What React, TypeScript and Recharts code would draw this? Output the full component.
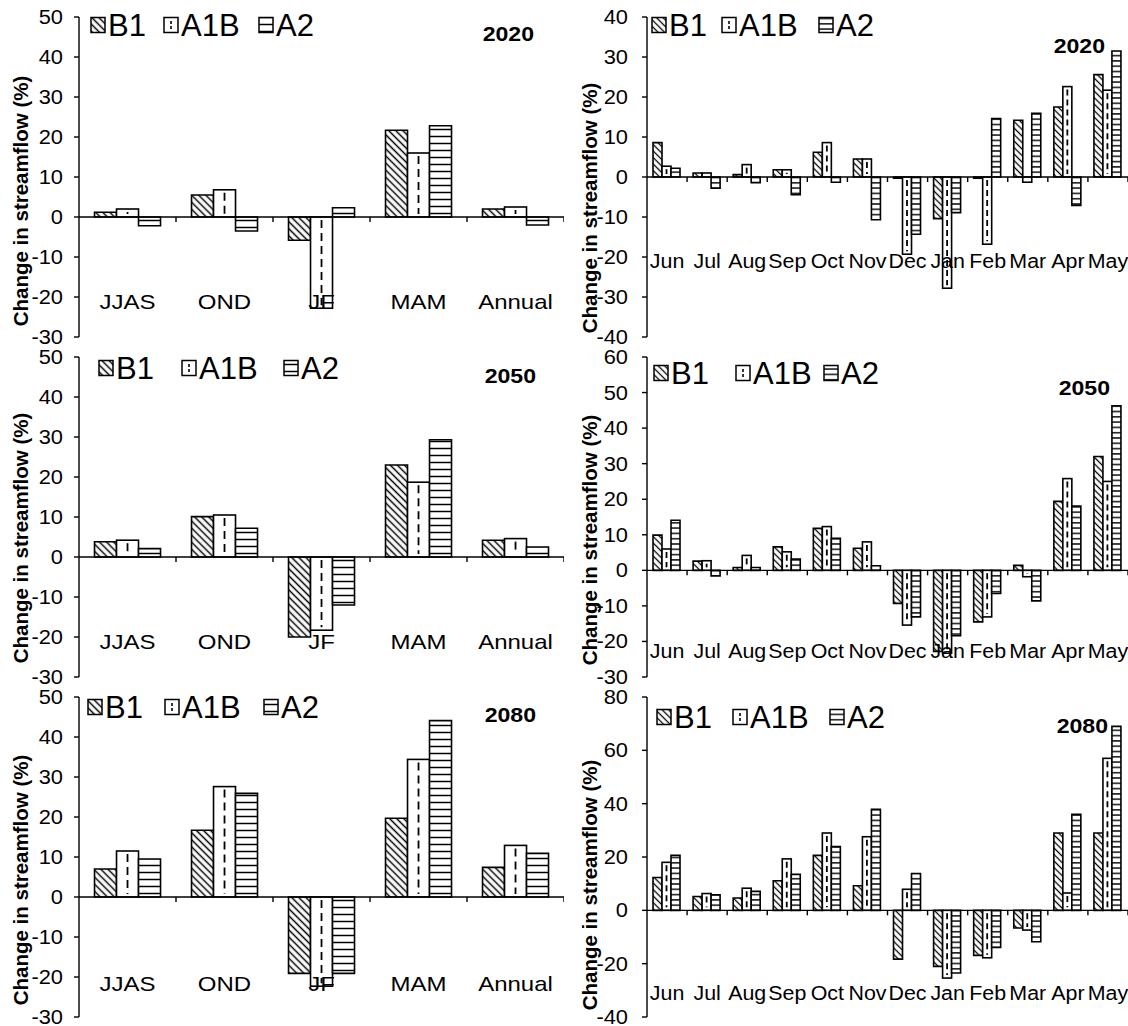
import React from "react";
import { BarChart, Bar, XAxis, YAxis, ReferenceLine } from "recharts";

const FONT = "Arial, 'Liberation Sans', Helvetica, sans-serif";

const seasons = ["JJAS", "OND", "JF", "MAM", "Annual"];
const months = ["Jun", "Jul", "Aug", "Sep", "Oct", "Nov", "Dec", "Jan", "Feb", "Mar", "Apr", "May"];
const series = ["B1", "A1B", "A2"];

// seasonal change in streamflow (%)
const b1Season2020 = [1.2, 5.5, -5.8, 21.7, 2.0];
const a1bSeason2020 = [2.0, 6.8, -22.8, 16.0, 2.5];
const a2Season2020 = [-2.2, -3.5, 2.3, 22.8, -2.0];
const b1Season2050 = [3.8, 10.1, -20.0, 23.0, 4.2];
const a1bSeason2050 = [4.2, 10.5, -18.3, 18.7, 4.6];
const a2Season2050 = [2.1, 7.2, -12.0, 29.3, 2.5];
const b1Season2080 = [7.0, 16.7, -19.1, 19.7, 7.4];
const a1bSeason2080 = [11.5, 27.6, -22.3, 34.4, 12.9];
const a2Season2080 = [9.5, 25.9, -19.1, 44.1, 10.9];

// monthly change in streamflow (%)
const b1Month2020 = [8.6, 1.0, 0.6, 1.8, 6.2, 4.5, -0.3, -10.4, -0.3, 14.2, 17.5, 25.6];
const a1bMonth2020 = [2.7, 1.0, 3.1, 1.8, 8.6, 4.5, -19.3, -27.8, -16.8, -1.3, 22.6, 21.7];
const a2Month2020 = [2.2, -2.8, -1.4, -4.4, -1.3, -10.7, -14.3, -8.9, 14.6, 15.9, -7.1, 31.5];
const b1Month2050 = [9.9, 2.6, 0.8, 6.6, 11.8, 6.2, -9.3, -22.8, -14.5, 1.4, 19.4, 32.0];
const a1bMonth2050 = [6.0, 2.7, 4.2, 5.2, 12.3, 8.0, -15.4, -23.3, -13.1, -1.8, 25.8, 25.0];
const a2Month2050 = [14.1, -1.6, 0.8, 3.2, 9.0, 1.3, -13.1, -18.4, -6.5, -8.6, 18.1, 46.3];
const b1Month2080 = [12.3, 5.2, 4.6, 11.1, 20.6, 9.2, -18.3, -21.0, -16.9, -6.6, 29.0, 29.0];
const a1bMonth2080 = [18.0, 6.3, 8.3, 19.3, 29.0, 27.6, 7.9, -25.4, -17.8, -7.4, 6.5, 57.0];
const a2Month2080 = [20.6, 5.8, 7.1, 13.5, 23.9, 37.9, 13.8, -23.5, -13.9, -11.8, 36.0, 69.0];

const seasonTicks = [-30, -20, -10, 0, 10, 20, 30, 40, 50];
const monthTicks2020 = [-40, -30, -20, -10, 0, 10, 20, 30, 40];
const monthTicks2050 = [-30, -20, -10, 0, 10, 20, 30, 40, 50, 60];
const monthTicks2080 = [-40, -20, 0, 20, 40, 60, 80];

type PanelSpec = {
  id: string;
  left: number;
  top: number;
  monthly: boolean;
  cats: string[];
  b1: number[];
  a1b: number[];
  a2: number[];
  ticks: number[];
  year: string;
  axisW: number;
  labelLift: number;
  legendX: number[];
  legendY: number;
  yearX: number;
  yearY: number;
  titleX: number;
  titleY: number;
};

const panels: PanelSpec[] = [
  { id: "s2020", left: 0, top: 0, monthly: false, cats: seasons, b1: b1Season2020, a1b: a1bSeason2020, a2: a2Season2020, ticks: seasonTicks, year: "2020", axisW: 79, labelLift: 28, legendX: [91, 164, 259], legendY: 25, yearX: 534, yearY: 41, titleX: 20, titleY: 201 },
  { id: "m2020", left: 564, top: 0, monthly: true, cats: months, b1: b1Month2020, a1b: a1bMonth2020, a2: a2Month2020, ticks: monthTicks2020, year: "2020", axisW: 83, labelLift: 69, legendX: [88, 158, 255], legendY: 25, yearX: 541, yearY: 53, titleX: 25, titleY: 208 },
  { id: "s2050", left: 0, top: 340, monthly: false, cats: seasons, b1: b1Season2050, a1b: a1bSeason2050, a2: a2Season2050, ticks: seasonTicks, year: "2050", axisW: 79, labelLift: 28, legendX: [99, 182, 284], legendY: 28, yearX: 536, yearY: 43, titleX: 20, titleY: 198 },
  { id: "m2050", left: 564, top: 340, monthly: true, cats: months, b1: b1Month2050, a1b: a1bMonth2050, a2: a2Month2050, ticks: monthTicks2050, year: "2050", axisW: 83, labelLift: 19, legendX: [90, 172, 260], legendY: 33, yearX: 546, yearY: 55, titleX: 25, titleY: 200 },
  { id: "s2080", left: 0, top: 680, monthly: false, cats: seasons, b1: b1Season2080, a1b: a1bSeason2080, a2: a2Season2080, ticks: seasonTicks, year: "2080", axisW: 79, labelLift: 26, legendX: [88, 165, 264], legendY: 27, yearX: 536, yearY: 42, titleX: 20, titleY: 200 },
  { id: "m2080", left: 564, top: 680, monthly: true, cats: months, b1: b1Month2080, a1b: a1bMonth2080, a2: a2Month2080, ticks: monthTicks2080, year: "2080", axisW: 83, labelLift: 17, legendX: [93, 169, 266], legendY: 37, yearX: 544, yearY: 53, titleX: 25, titleY: 205 },
];

function Patterns() {
  return (
    <svg width={0} height={0} style={{ position: "absolute" }}>
      <defs>
        <pattern id="b1-s" patternUnits="userSpaceOnUse" width={5} height={5} patternTransform="rotate(45)">
          <rect width={5} height={5} fill="#fff" />
          <line x1={0} y1={2.5} x2={5} y2={2.5} stroke="#000" strokeWidth={1.5} />
        </pattern>
        <pattern id="b1-m" patternUnits="userSpaceOnUse" width={4.6} height={4.6} patternTransform="rotate(45)">
          <rect width={4.6} height={4.6} fill="#fff" />
          <line x1={0} y1={2.3} x2={4.6} y2={2.3} stroke="#000" strokeWidth={1.3} />
        </pattern>
        <pattern id="a2-s" patternUnits="userSpaceOnUse" width={8} height={7}>
          <rect width={8} height={7} fill="#fff" />
          <line x1={0} y1={3.5} x2={8} y2={3.5} stroke="#000" strokeWidth={1.5} />
        </pattern>
        <pattern id="a2-m" patternUnits="userSpaceOnUse" width={8} height={5.3}>
          <rect width={8} height={5.3} fill="#fff" />
          <line x1={0} y1={2.6} x2={8} y2={2.6} stroke="#000" strokeWidth={1.4} />
        </pattern>
      </defs>
    </svg>
  );
}

// A1B: white bar with a dashed line down the middle
const dashedBar = (dash: string) => (p: any) => {
  const { x, y, width, height } = p;
  if (x == null || y == null) return <g />;
  const top = Math.min(y, y + height);
  const h = Math.abs(height);
  const cx = x + width / 2;
  return (
    <g>
      <rect x={x} y={top} width={width} height={h} fill="#fff" stroke="#000" strokeWidth={1.6} />
      {h > 6 && (
        <line x1={cx} x2={cx} y1={top + 3} y2={top + h - 3} stroke="#000" strokeWidth={1.8} strokeDasharray={dash} />
      )}
    </g>
  );
};

// zero line acting as category axis, with small ticks between categories
const zeroAxis = (n: number) => (p: any) => {
  const { x1, x2, y1 } = p;
  const step = (x2 - x1) / n;
  return (
    <g>
      <line x1={x1} x2={x2} y1={y1} y2={y1} stroke="#000" strokeWidth={1.4} />
      {Array.from({ length: n }, (_, i) => (
        <line key={i} x1={x1 + step * (i + 1)} x2={x1 + step * (i + 1)} y1={y1} y2={y1 + 5} stroke="#000" strokeWidth={1.4} />
      ))}
    </g>
  );
};

function Swatch({ kind, x, y, tag }: { kind: string; x: number; y: number; tag: string }) {
  const w = 14;
  const h = 15;
  if (kind === "A1B") {
    return (
      <g>
        <rect x={x} y={y - h / 2} width={w} height={h} fill="#fff" stroke="#000" strokeWidth={1.5} />
        <line x1={x + w / 2} x2={x + w / 2} y1={y - 4} y2={y + 4} stroke="#000" strokeWidth={1.6} strokeDasharray="3 2" />
      </g>
    );
  }
  const fill = kind === "B1" ? `url(#b1-${tag})` : `url(#a2-${tag})`;
  return <rect x={x} y={y - h / 2} width={w} height={h} fill={fill} stroke="#000" strokeWidth={1.5} />;
}

function Panel(p: PanelSpec) {
  const W = 564;
  const H = 350;
  const tag = p.monthly ? "m" : "s";
  const catStretch = p.monthly ? 1.07 : 1.2;
  const rows = p.cats.map((name, i) => ({ name, B1: p.b1[i], A1B: p.a1b[i], A2: p.a2[i] }));
  const domain: [number, number] = [p.ticks[0], p.ticks[p.ticks.length - 1]];

  return (
    <div style={{ position: "absolute", left: p.left, top: p.top, width: W, height: H }}>
      <BarChart
        width={W}
        height={H}
        data={rows}
        margin={{ top: 17, right: 0, bottom: 12, left: 0 }}
        barGap={0}
        barCategoryGap={p.monthly ? "15%" : "16%"}
        style={{ overflow: "visible" }}
      >
        <XAxis
          dataKey="name"
          height={1}
          axisLine={false}
          tickLine={false}
          tickSize={0}
          tickMargin={0}
          interval={0}
          tick={(t: any) => (
            <text
              transform={`translate(${t.x},${t.y - p.labelLift}) scale(${catStretch},1)`}
              textAnchor="middle"
              fontSize={20}
              fontFamily={FONT}
              fill="#000"
            >
              {t.payload.value}
            </text>
          )}
        />
        <YAxis
          type="number"
          width={p.axisW}
          domain={domain}
          ticks={p.ticks}
          interval={0}
          allowDataOverflow
          tickSize={5}
          tickMargin={p.monthly ? 14 : 11}
          axisLine={{ stroke: "#000", strokeWidth: 1.4 }}
          tickLine={{ stroke: "#000", strokeWidth: 1.4 }}
          tick={(t: any) => (
            <text
              transform={`translate(${t.x},${t.y + 7}) scale(1.12,1)`}
              textAnchor="end"
              fontSize={19.5}
              fontFamily={FONT}
              fill="#000"
            >
              {t.payload.value}
            </text>
          )}
        />
        <Bar dataKey="B1" fill={`url(#b1-${tag})`} stroke="#000" strokeWidth={1.6} isAnimationActive={false} />
        <Bar dataKey="A1B" fill="#fff" shape={dashedBar(p.monthly ? "6 4" : "8 5")} isAnimationActive={false} />
        <Bar dataKey="A2" fill={`url(#a2-${tag})`} stroke="#000" strokeWidth={1.6} isAnimationActive={false} />
        <ReferenceLine y={0} shape={zeroAxis(p.cats.length)} />
      </BarChart>
      <svg width={W} height={H} style={{ position: "absolute", left: 0, top: 0, pointerEvents: "none", overflow: "visible" }}>
        {series.map((s, i) => (
          <g key={s}>
            <Swatch kind={s} x={p.legendX[i]} y={p.legendY} tag={tag} />
            <text x={p.legendX[i] + 17} y={p.legendY + 11} fontSize={31} fontFamily={FONT} fill="#000">
              {s}
            </text>
          </g>
        ))}
        <text
          transform={`translate(${p.yearX},${p.yearY}) scale(1.1,1)`}
          textAnchor="end"
          fontSize={21}
          fontWeight="bold"
          fontFamily={FONT}
          fill="#000"
        >
          {p.year}
        </text>
        <text
          transform={`translate(${p.titleX},${p.titleY}) rotate(-90)`}
          textAnchor="middle"
          dominantBaseline="central"
          fontSize={20.5}
          fontWeight="bold"
          fontFamily={FONT}
          fill="#000"
        >
          Change in streamflow (%)
        </text>
      </svg>
    </div>
  );
}

export default function App() {
  return (
    <div style={{ position: "absolute", left: 0, top: 0, width: 1128, height: 1026, background: "#fff" }}>
      <Patterns />
      {panels.map((p) => (
        <Panel key={p.id} {...p} />
      ))}
    </div>
  );
}
